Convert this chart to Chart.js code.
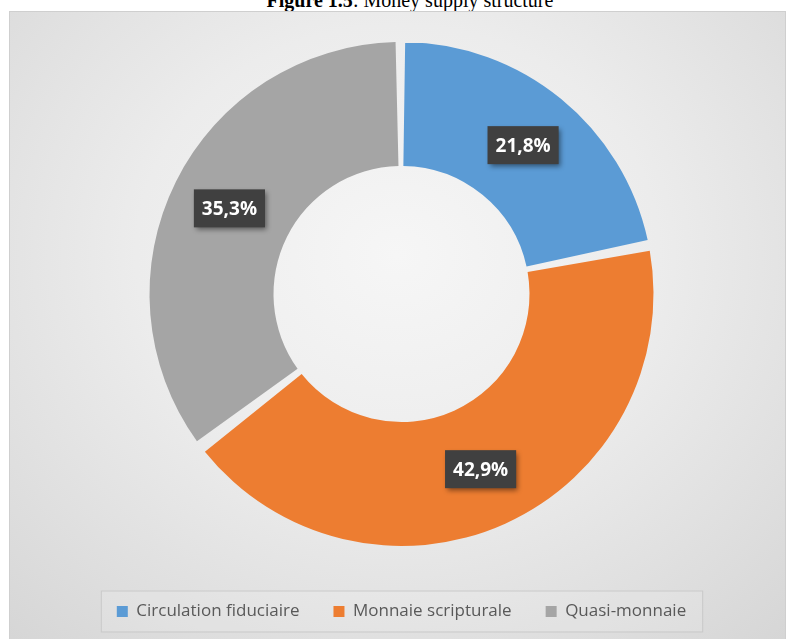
<!DOCTYPE html>
<html>
<head>
<meta charset="utf-8">
<script src="https://cdn.jsdelivr.net/npm/chart.js@4"></script>
<style>
  body { margin: 0; background: #fff; width: 794px; height: 639px; overflow: hidden; position: relative; }
  #title { position: absolute; left: 0; width: 820px; top: -10px; text-align: center; font: 20px/20px "Liberation Serif", "Times New Roman", serif; color: #000; }
  #panel { position: absolute; left: 9px; top: 11px; width: 775px; height: 640px; border: 1px solid #cfcfcf;
    background: radial-gradient(ellipse 75% 80% at 50% 38%, #f6f6f6 0%, #ececec 45%, #d6d6d6 100%); }
</style>
</head>
<body>
<div id="title"><b>Figure 1.5</b>: Money supply structure</div>
<div id="panel"><canvas id="chart" width="775" height="640"></canvas></div>
<script>
const categories = ['Circulation fiduciaire', 'Monnaie scripturale', 'Quasi-monnaie'];
const shares = [21.8, 42.9, 35.3];
const shareLabels = ['21,8%', '42,9%', '35,3%'];
const colors = ['#5b9bd5', '#ed7d31', '#a5a5a5'];

// dark boxed labels on each slice
const sliceLabels = {
  id: 'sliceLabels',
  afterDatasetsDraw(chart) {
    const ctx = chart.ctx;
    chart.getDatasetMeta(0).data.forEach((arc, i) => {
      const p = arc.getProps(['x', 'y', 'startAngle', 'endAngle', 'innerRadius', 'outerRadius'], true);
      const mid = (p.startAngle + p.endAngle) / 2;
      const r = p.innerRadius + (p.outerRadius - p.innerRadius) * 0.55;
      const x = p.x + Math.cos(mid) * r;
      const y = p.y + Math.sin(mid) * r;
      ctx.save();
      ctx.font = 'bold 19px "Open Sans", sans-serif';
      const w = ctx.measureText(shareLabels[i]).width + 16;
      const h = 38;
      ctx.shadowColor = 'rgba(0,0,0,0.45)';
      ctx.shadowBlur = 5;
      ctx.shadowOffsetX = 2;
      ctx.shadowOffsetY = 3;
      ctx.fillStyle = '#404040';
      ctx.fillRect(x - w / 2, y - h / 2, w, h);
      ctx.shadowColor = 'transparent';
      ctx.fillStyle = '#fff';
      ctx.textAlign = 'center';
      ctx.textBaseline = 'middle';
      ctx.fillText(shareLabels[i], x, y + 1);
      ctx.restore();
    });
  }
};

// thin frame around the legend row
const legendFrame = {
  id: 'legendFrame',
  beforeDraw(chart) {
    const boxes = chart.legend.legendHitBoxes;
    if (!boxes || !boxes.length) return;
    const ctx = chart.ctx;
    const left = boxes[0].left - 16;
    const last = boxes[boxes.length - 1];
    const right = last.left + last.width + 16;
    const top = boxes[0].top + boxes[0].height / 2 - 21;
    ctx.save();
    ctx.fillStyle = 'rgba(255,255,255,0.12)';
    ctx.strokeStyle = '#c9c9c9';
    ctx.lineWidth = 1;
    ctx.fillRect(left, top, right - left, 41);
    ctx.strokeRect(left + 0.5, top + 0.5, right - left, 41);
    ctx.restore();
  }
};

new Chart(document.getElementById('chart'), {
  type: 'doughnut',
  data: {
    labels: categories,
    datasets: [{
      data: shares,
      backgroundColor: colors,
      borderWidth: 0,
      spacing: 8
    }]
  },
  options: {
    responsive: false,
    animation: false,
    radius: 248,
    cutout: '50%',
    layout: { padding: { top: 7, left: 8, bottom: 22 } },
    plugins: {
      tooltip: { enabled: false },
      legend: {
        position: 'bottom',
        labels: {
          boxWidth: 11,
          boxHeight: 11,
          padding: 34,
          color: '#595959',
          font: { family: '"Open Sans", sans-serif', size: 17 }
        }
      }
    }
  },
  plugins: [sliceLabels, legendFrame]
});
</script>
</body>
</html>
